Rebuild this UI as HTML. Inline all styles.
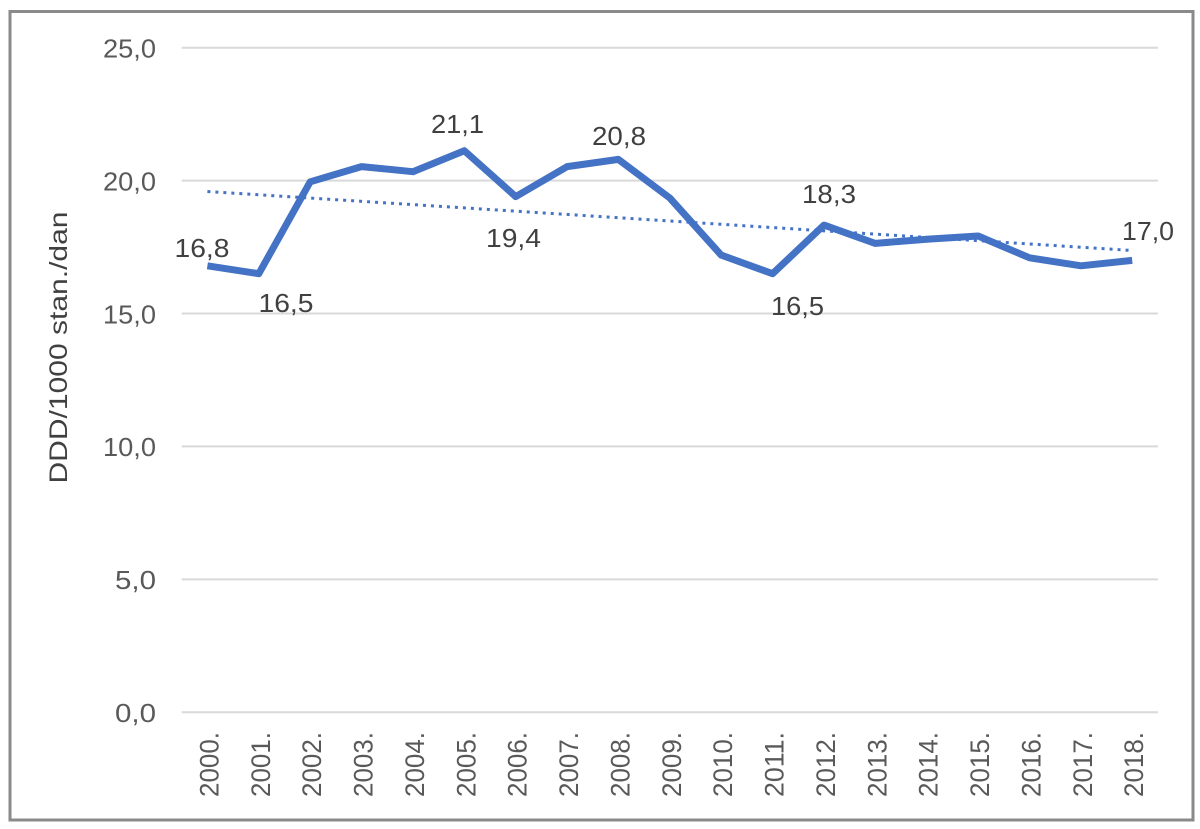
<!DOCTYPE html>
<html>
<head>
<meta charset="utf-8">
<style>
  html, body { margin: 0; padding: 0; background: #ffffff; }
  svg { display: block; }
  text { font-family: "Liberation Sans", Arial, sans-serif; }
</style>
</head>
<body>
<svg width="1200" height="829" viewBox="0 0 1200 829" xmlns="http://www.w3.org/2000/svg">
  <rect x="0" y="0" width="1200" height="829" fill="#ffffff"/>
  <rect x="10" y="11.5" width="1183" height="808.5" fill="#ffffff" stroke="#8a8a8a" stroke-width="3"/>

  <!-- gridlines -->
  <g stroke="#d9d9d9" stroke-width="2">
    <line x1="181.7" y1="47.7" x2="1158" y2="47.7"/>
    <line x1="181.7" y1="180.6" x2="1158" y2="180.6"/>
    <line x1="181.7" y1="313.5" x2="1158" y2="313.5"/>
    <line x1="181.7" y1="446.4" x2="1158" y2="446.4"/>
    <line x1="181.7" y1="579.4" x2="1158" y2="579.4"/>
    <line x1="181.7" y1="712.3" x2="1158" y2="712.3"/>
  </g>

  <!-- y tick labels -->
  <g fill="#595959" font-size="26" text-anchor="end">
    <text x="156" y="57.5" textLength="53" lengthAdjust="spacingAndGlyphs">25,0</text>
    <text x="156" y="190.4" textLength="53" lengthAdjust="spacingAndGlyphs">20,0</text>
    <text x="156" y="323.3" textLength="53" lengthAdjust="spacingAndGlyphs">15,0</text>
    <text x="156" y="456.2" textLength="53" lengthAdjust="spacingAndGlyphs">10,0</text>
    <text x="156" y="589.2" textLength="41" lengthAdjust="spacingAndGlyphs">5,0</text>
    <text x="156" y="722.1" textLength="41" lengthAdjust="spacingAndGlyphs">0,0</text>
  </g>

  <!-- y axis title -->
  <text transform="translate(67,347.5) rotate(-90)" fill="#404040" font-size="25" text-anchor="middle" textLength="272" lengthAdjust="spacingAndGlyphs">DDD/1000 stan./dan</text>

  <!-- x labels -->
  <g fill="#595959" font-size="27" text-anchor="end">
    <text transform="translate(218.4,732) rotate(-90)" textLength="65" lengthAdjust="spacingAndGlyphs">2000.</text>
    <text transform="translate(269.8,732) rotate(-90)" textLength="65" lengthAdjust="spacingAndGlyphs">2001.</text>
    <text transform="translate(321.2,732) rotate(-90)" textLength="65" lengthAdjust="spacingAndGlyphs">2002.</text>
    <text transform="translate(372.5,732) rotate(-90)" textLength="65" lengthAdjust="spacingAndGlyphs">2003.</text>
    <text transform="translate(423.9,732) rotate(-90)" textLength="65" lengthAdjust="spacingAndGlyphs">2004.</text>
    <text transform="translate(475.3,732) rotate(-90)" textLength="65" lengthAdjust="spacingAndGlyphs">2005.</text>
    <text transform="translate(526.7,732) rotate(-90)" textLength="65" lengthAdjust="spacingAndGlyphs">2006.</text>
    <text transform="translate(578.1,732) rotate(-90)" textLength="65" lengthAdjust="spacingAndGlyphs">2007.</text>
    <text transform="translate(629.4,732) rotate(-90)" textLength="65" lengthAdjust="spacingAndGlyphs">2008.</text>
    <text transform="translate(680.8,732) rotate(-90)" textLength="65" lengthAdjust="spacingAndGlyphs">2009.</text>
    <text transform="translate(732.2,732) rotate(-90)" textLength="65" lengthAdjust="spacingAndGlyphs">2010.</text>
    <text transform="translate(783.6,732) rotate(-90)" textLength="65" lengthAdjust="spacingAndGlyphs">2011.</text>
    <text transform="translate(835,732) rotate(-90)" textLength="65" lengthAdjust="spacingAndGlyphs">2012.</text>
    <text transform="translate(886.3,732) rotate(-90)" textLength="65" lengthAdjust="spacingAndGlyphs">2013.</text>
    <text transform="translate(937.7,732) rotate(-90)" textLength="65" lengthAdjust="spacingAndGlyphs">2014.</text>
    <text transform="translate(989.1,732) rotate(-90)" textLength="65" lengthAdjust="spacingAndGlyphs">2015.</text>
    <text transform="translate(1040.5,732) rotate(-90)" textLength="65" lengthAdjust="spacingAndGlyphs">2016.</text>
    <text transform="translate(1091.9,732) rotate(-90)" textLength="65" lengthAdjust="spacingAndGlyphs">2017.</text>
    <text transform="translate(1143.2,732) rotate(-90)" textLength="65" lengthAdjust="spacingAndGlyphs">2018.</text>
  </g>

  <!-- trend line -->
  <line x1="207.4" y1="191.5" x2="1132.2" y2="250.5" stroke="#4472c4" stroke-width="3" stroke-dasharray="3 5"/>

  <!-- data line -->
  <polyline fill="none" stroke="#4472c4" stroke-width="7" stroke-linejoin="round" stroke-linecap="butt"
    points="207.4,265.8 258.8,273.7 310.2,181.8 361.5,166.6 412.9,171.7 464.3,150.7 515.7,196.6 567.1,166.6 618.4,159.4 669.8,198.0 721.2,255.1 772.6,273.7 824.0,225.1 875.3,243.4 926.7,239.2 978.1,236.0 1029.5,257.8 1080.9,265.8 1132.2,260.4"/>

  <!-- data labels -->
  <g fill="#404040" font-size="26" text-anchor="middle">
    <text x="202" y="257" textLength="55" lengthAdjust="spacingAndGlyphs">16,8</text>
    <text x="286" y="312" textLength="55" lengthAdjust="spacingAndGlyphs">16,5</text>
    <text x="457.5" y="133" textLength="53" lengthAdjust="spacingAndGlyphs">21,1</text>
    <text x="513.5" y="247" textLength="55" lengthAdjust="spacingAndGlyphs">19,4</text>
    <text x="619" y="145" textLength="54" lengthAdjust="spacingAndGlyphs">20,8</text>
    <text x="829" y="203" textLength="54" lengthAdjust="spacingAndGlyphs">18,3</text>
    <text x="797.5" y="315" textLength="53" lengthAdjust="spacingAndGlyphs">16,5</text>
    <text x="1148" y="240" textLength="52" lengthAdjust="spacingAndGlyphs">17,0</text>
  </g>
</svg>
</body>
</html>
